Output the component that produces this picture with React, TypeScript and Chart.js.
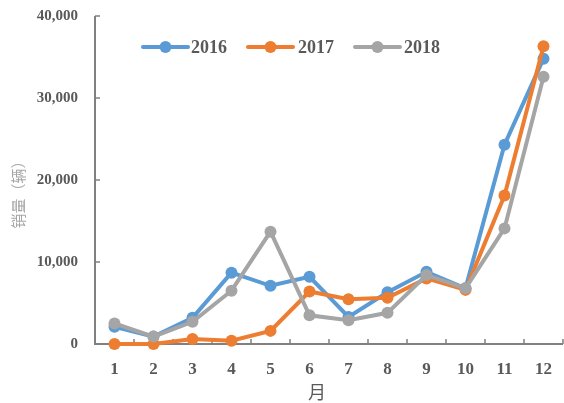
import React, { useEffect, useRef } from "react";
import { Chart, registerables } from "chart.js";

Chart.register(...registerables);

const months = ["1", "2", "3", "4", "5", "6", "7", "8", "9", "10", "11", "12"];
const sales2016 = [2100, 900, 3200, 8700, 7100, 8200, 3300, 6300, 8800, 6800, 24300, 34800];
const sales2017 = [0, 0, 600, 400, 1600, 6400, 5450, 5650, 8000, 6600, 18100, 36300];
const sales2018 = [2500, 900, 2700, 6500, 13700, 3500, 2900, 3800, 8400, 6800, 14100, 32600];
const seriesNames = ["2016", "2017", "2018"];
const seriesColors = ["#5B9BD5", "#ED7D31", "#A5A5A5"];
const yTickValues = [0, 10000, 20000, 30000, 40000];
const yTitle = "销量（辆）";
const xTitle = "月";

const TEXT = "#595959";
const AXIS = "#808080";

const decorPlugin = {
  id: "decor",
  beforeDatasetsDraw(chart: any) {
    const { ctx, chartArea } = chart;
    const ys = chart.scales.y;
    const xs = chart.scales.x;
    ctx.save();
    ctx.strokeStyle = AXIS;
    ctx.lineWidth = 2;
    ctx.beginPath();
    ctx.moveTo(chartArea.left, chartArea.top);
    ctx.lineTo(chartArea.left, chartArea.bottom);
    ctx.lineTo(chartArea.right, chartArea.bottom);
    ctx.stroke();
    ctx.lineWidth = 1.5;
    ctx.beginPath();
    for (const v of yTickValues) {
      const y = Math.round(ys.getPixelForValue(v));
      ctx.moveTo(chartArea.left, y);
      ctx.lineTo(chartArea.left + 5, y);
    }
    const n = months.length;
    const step = (chartArea.right - chartArea.left) / n;
    for (let i = 0; i <= n; i++) {
      const x = Math.round(chartArea.left + i * step);
      ctx.moveTo(x, chartArea.bottom);
      ctx.lineTo(x, chartArea.bottom - 5);
    }
    ctx.stroke();
    ctx.fillStyle = TEXT;
    ctx.font = "bold 17px 'Liberation Serif'";
    ctx.textAlign = "center";
    ctx.textBaseline = "middle";
    months.forEach((m, i) => {
      ctx.fillText(m, xs.getPixelForValue(i), chartArea.bottom + 26);
    });
    ctx.restore();
  },
  afterDraw(chart: any) {
    const { ctx } = chart;
    ctx.save();
    const items = [
      { x: 143, tx: 191 },
      { x: 248, tx: 298 },
      { x: 355, tx: 404 },
    ];
    const ly = 47;
    items.forEach((it, i) => {
      ctx.strokeStyle = seriesColors[i];
      ctx.fillStyle = seriesColors[i];
      ctx.lineWidth = 4;
      ctx.lineCap = "round";
      ctx.beginPath();
      ctx.moveTo(it.x, ly);
      ctx.lineTo(it.x + 45, ly);
      ctx.stroke();
      ctx.beginPath();
      ctx.arc(it.x + 22.5, ly, 6, 0, Math.PI * 2);
      ctx.fill();
      ctx.fillStyle = TEXT;
      ctx.font = "bold 18px 'Liberation Serif'";
      ctx.textAlign = "left";
      ctx.textBaseline = "middle";
      ctx.fillText(seriesNames[i], it.tx, ly + 1);
    });
    ctx.save();
    ctx.translate(18, 191);
    ctx.rotate(-Math.PI / 2);
    ctx.fillStyle = "#a6a6a6";
    ctx.font = "15px 'Noto Sans CJK SC'";
    ctx.textAlign = "center";
    ctx.textBaseline = "middle";
    ctx.fillText(yTitle, 0, 0);
    ctx.restore();
    ctx.fillStyle = TEXT;
    ctx.font = "18px 'Noto Sans CJK SC'";
    ctx.textAlign = "center";
    ctx.textBaseline = "middle";
    ctx.fillText(xTitle, 317, 392);
    ctx.restore();
  },
};

export default function App() {
  const ref = useRef<HTMLCanvasElement | null>(null);
  useEffect(() => {
    if (!ref.current) return;
    const data = [sales2016, sales2017, sales2018];
    const chart = new Chart(ref.current, {
      type: "line",
      data: {
        labels: months,
        datasets: data.map((d, i) => ({
          label: seriesNames[i],
          data: d,
          borderColor: seriesColors[i],
          backgroundColor: seriesColors[i],
          borderWidth: 4,
          pointRadius: 6,
          pointHoverRadius: 6,
          pointBorderWidth: 0,
          pointBackgroundColor: seriesColors[i],
          tension: 0,
          clip: false as any,
          order: 2 - i,
        })),
      },
      options: {
        responsive: false,
        animation: false,
        layout: { autoPadding: false, padding: { left: 0, top: 16, right: 1, bottom: 0 } },
        plugins: { legend: { display: false }, tooltip: { enabled: false } },
        scales: {
          x: {
            type: "category",
            offset: true,
            grid: { display: false, drawTicks: false, offset: true },
            border: { display: false },
            ticks: { display: false },
            afterFit: (s: any) => {
              s.height = 59;
            },
          },
          y: {
            min: 0,
            max: 40000,
            grid: { display: false, drawTicks: false },
            border: { display: false },
            afterBuildTicks: (s: any) => {
              s.ticks = yTickValues.map((v) => ({ value: v }));
            },
            ticks: {
              color: TEXT,
              padding: 17,
              font: { family: "'Liberation Serif'", weight: "bold", size: 15 },
              callback: (v: any) => Number(v).toLocaleString("en-US"),
            },
            afterFit: (s: any) => {
              s.width = 95;
              s.paddingTop = 0;
              s.paddingBottom = 0;
            },
          },
        },
      },
      plugins: [decorPlugin],
    });
    return () => chart.destroy();
  }, []);
  return (
    <div style={{ position: "absolute", left: 0, top: 0, width: 564, height: 403, background: "#fff" }}>
      <canvas ref={ref} width={564} height={403} />
    </div>
  );
}
